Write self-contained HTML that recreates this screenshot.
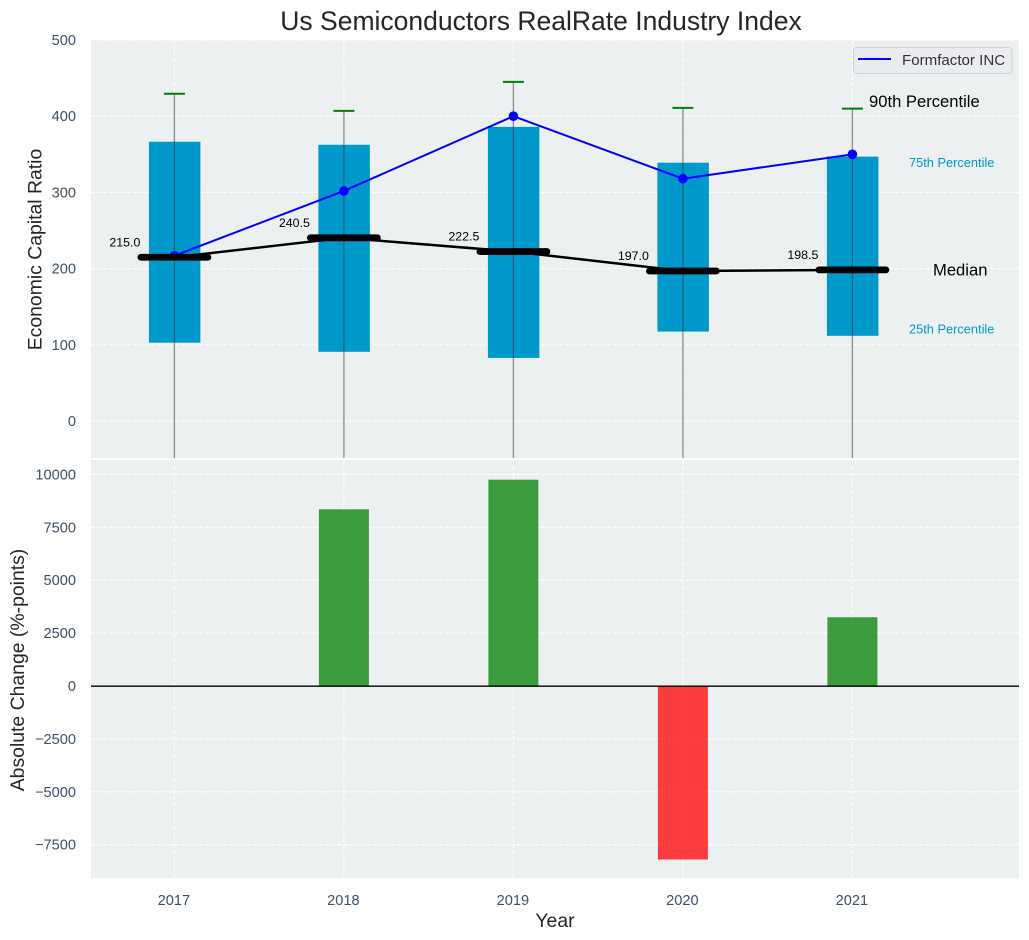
<!DOCTYPE html>
<html lang="en">
<head>
<meta charset="utf-8">
<title>Us Semiconductors RealRate Industry Index</title>
<style>
html,body{margin:0;padding:0;background:#fff;width:1029px;height:940px;overflow:hidden}
svg{display:block;font-family:"Liberation Sans",Arial,sans-serif}
</style>
</head>
<body>
<svg id="chart" xmlns="http://www.w3.org/2000/svg" width="1029" height="940" viewBox="0 0 1029 940">
  <rect width="1029" height="940" fill="#ffffff"/>
  <text x="541" y="30" text-anchor="middle" font-size="26.5" fill="#262626">Us Semiconductors RealRate Industry Index</text>
  <rect x="91" y="40" width="928" height="418" fill="#ecf0f1"/>
  <rect x="91" y="460" width="928" height="418" fill="#ecf0f1"/>
  <clipPath id="clipTop"><rect x="91" y="40" width="928" height="418"/></clipPath>
  <clipPath id="clipBottom"><rect x="91" y="460" width="928" height="418"/></clipPath>
  <g id="topGrid"></g>
  <g id="bottomGrid"></g>
  <g id="changeBars" clip-path="url(#clipBottom)"></g>
  <g id="boxes" clip-path="url(#clipTop)"></g>
  <g id="whiskers" clip-path="url(#clipTop)"></g>
  <g id="medians" clip-path="url(#clipTop)"></g>
  <g id="company" clip-path="url(#clipTop)"></g>
  <g id="labels"></g>
  <g id="ticks"></g>
  <line x1="91" x2="1019" y1="686.2" y2="686.2" stroke="#000" stroke-width="1.4"/>
  <text transform="translate(41.5,249.5) rotate(-90)" text-anchor="middle" font-size="19.4" fill="#262626">Economic Capital Ratio</text>
  <text transform="translate(24,670) rotate(-90)" text-anchor="middle" font-size="19.4" fill="#262626">Absolute Change (%-points)</text>
  <text x="555" y="927" text-anchor="middle" font-size="19.4" fill="#262626">Year</text>
  <text x="869" y="107" font-size="16.6" fill="#000">90th Percentile</text>
  <text x="909" y="167" font-size="12.8" fill="#0099cc">75th Percentile</text>
  <text x="933" y="275.5" font-size="16.6" fill="#000">Median</text>
  <text x="909" y="333.5" font-size="12.8" fill="#0099cc">25th Percentile</text>
  <g>
    <rect x="853.5" y="47.5" width="158.5" height="26" rx="3" fill="#ebecf0" stroke="#d0d2d5" stroke-width="1"/>
    <line x1="858" x2="891" y1="59" y2="59" stroke="#0000ff" stroke-width="2"/>
    <text x="902" y="65" font-size="15.1" fill="#333">Formfactor INC</text>
  </g>
</svg>
<script>
var years = [2017, 2018, 2019, 2020, 2021];
var p25 = [103, 91, 83, 117.5, 112];
var p75 = [366.5, 362.5, 386, 339, 347];
var p90 = [429.5, 407, 445, 411, 410];
var p10 = [-120, -110, -130, -100, -105];
var medianValues = [215.0, 240.5, 222.5, 197.0, 198.5];
var companyValues = [217, 302, 400, 318, 350];
var changeValues = [0, 8350, 9750, -8200, 3250];
var topTicks = [500, 400, 300, 200, 100, 0];
var bottomTicks = [10000, 7500, 5000, 2500, 0, -2500, -5000, -7500];

var NS = 'http://www.w3.org/2000/svg';
function xPos(year) { return 174.4 + (year - 2017) * 169.5; }
function yTop(v) { return 421.2 - v * 0.7625; }
function yBottom(v) { return 686 - v * 0.02116; }
function make(parentId, tag, props, text) {
  var el = document.createElementNS(NS, tag);
  for (var k in props) { el.setAttribute(k, props[k]); }
  if (text !== undefined) { el.textContent = text; }
  document.getElementById(parentId).appendChild(el);
  return el;
}
var tickColor = '#3f5068';

topTicks.forEach(function (t) {
  var grid = make('topGrid', 'line', {x1: 91, x2: 1019, y1: yTop(t), y2: yTop(t), stroke: '#fff', 'stroke-width': 1.1, 'stroke-dasharray': '4 2'});
  
  
  var label = make('ticks', 'text', {x: 76, y: yTop(t) + 5, 'text-anchor': 'end', 'font-size': 14.6, fill: tickColor}, String(t));
  
  
});
bottomTicks.forEach(function (t) {
  var grid = make('bottomGrid', 'line', {x1: 91, x2: 1019, y1: yBottom(t), y2: yBottom(t), stroke: '#fff', 'stroke-width': 1.1, 'stroke-dasharray': '4 2'});
  
  
  var text = t < 0 ? '\u2212' + Math.abs(t) : String(t);
  var label = make('ticks', 'text', {x: 76, y: yBottom(t) + 5, 'text-anchor': 'end', 'font-size': 14.6, fill: tickColor}, text);
  
  
});
years.forEach(function (yr, i) {
  var x = xPos(yr);
  var gridA = make('topGrid', 'line', {x1: x, x2: x, y1: 40, y2: 458, stroke: '#fff', 'stroke-width': 1.1, 'stroke-dasharray': '4 2'});
  
  
  var gridB = make('bottomGrid', 'line', {x1: x, x2: x, y1: 460, y2: 878, stroke: '#fff', 'stroke-width': 1.1, 'stroke-dasharray': '4 2'});
  
  
  var label = make('ticks', 'text', {x: x - 0.5, y: 905, 'text-anchor': 'middle', 'font-size': 14.6, fill: tickColor}, String(yr));
  
  

  var v = changeValues[i];
  var bar = make('changeBars', 'rect', {x: x - 25, width: 50, y: Math.min(yBottom(v), yBottom(0)), height: Math.abs(yBottom(v) - yBottom(0)), fill: v >= 0 ? '#008000' : '#ff0000', 'fill-opacity': 0.75});
  
  

  var box = make('boxes', 'rect', {x: x - 25.5, width: 51.5, y: yTop(p75[i]), height: yTop(p25[i]) - yTop(p75[i]), fill: '#0099cc'});
  
  

  var whisker = make('whiskers', 'line', {x1: x, x2: x, y1: yTop(p90[i]), y2: yTop(p10[i]), stroke: '#333', 'stroke-width': 1.3, 'stroke-opacity': 0.55});
  
  
  var cap = make('whiskers', 'line', {x1: x - 10.5, x2: x + 10.5, y1: yTop(p90[i]), y2: yTop(p90[i]), stroke: '#008000', 'stroke-width': 2});
  
  
});

var medianLine = make('medians', 'polyline', {points: years.map(function (yr, i) { return xPos(yr) + ',' + yTop(medianValues[i]); }).join(' '), fill: 'none', stroke: '#000', 'stroke-width': 2.5});


var companyLine = make('company', 'polyline', {points: years.map(function (yr, i) { return xPos(yr) + ',' + yTop(companyValues[i]); }).join(' '), fill: 'none', stroke: '#0000ff', 'stroke-width': 2});



years.forEach(function (yr, i) {
  var x = xPos(yr);
  var dot = make('company', 'circle', {cx: x, cy: yTop(companyValues[i]), r: 4.8, fill: '#0000ff'});
  
  
  var bar = make('medians', 'line', {x1: x - 33.5, x2: x + 33.5, y1: yTop(medianValues[i]), y2: yTop(medianValues[i]), stroke: '#000', 'stroke-width': 6.8, 'stroke-linecap': 'round'});
  
  
  var label = make('labels', 'text', {x: x - 34, y: yTop(medianValues[i]) - 11, 'text-anchor': 'end', 'font-size': 12.4, fill: '#000'}, medianValues[i].toFixed(1));
  
  
});
/* move dots beneath the median bars, as in the source drawing order */
document.getElementById('chart').insertBefore(document.getElementById('company'), document.getElementById('medians'));
</script>
</body>
</html>
